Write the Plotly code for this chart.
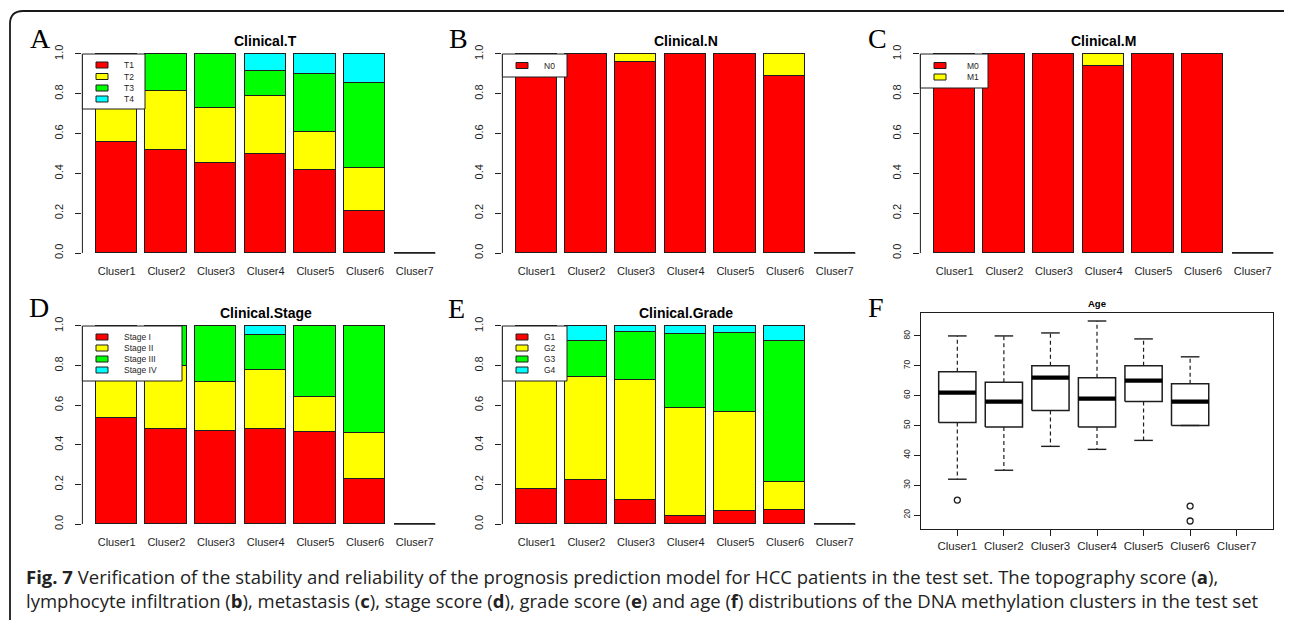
import plotly.graph_objects as go

# page offset of the plot inside the html body (default body margin)
OFF = 8
W, H = 1292 - OFF, 620 - OFF

# ---------------- data ----------------
clusters = ["Cluser1", "Cluser2", "Cluser3", "Cluser4", "Cluser5", "Cluser6", "Cluser7"]
level_colors = ["#FF0000", "#FFFF00", "#00FF00", "#00FFFF"]

# Clinical.T proportions
t_labels = ["T1", "T2", "T3", "T4"]
t_T1 = [0.556, 0.516, 0.452, 0.497, 0.417, 0.213, 0]
t_T2 = [0.222, 0.296, 0.275, 0.290, 0.193, 0.214, 0]
t_T3 = [0.222, 0.188, 0.273, 0.128, 0.289, 0.429, 0]
t_T4 = [0.000, 0.000, 0.000, 0.085, 0.101, 0.144, 0]

# Clinical.N proportions
n_labels = ["N0", "N1"]
n_N0 = [1.000, 1.000, 0.962, 1.000, 1.000, 0.889, 0]
n_N1 = [0.000, 0.000, 0.038, 0.000, 0.000, 0.111, 0]

# Clinical.M proportions
m_labels = ["M0", "M1"]
m_M0 = [1.000, 1.000, 1.000, 0.941, 1.000, 1.000, 0]
m_M1 = [0.000, 0.000, 0.000, 0.059, 0.000, 0.000, 0]

# Clinical.Stage proportions
s_labels = ["Stage I", "Stage II", "Stage III", "Stage IV"]
s_I = [0.535, 0.480, 0.468, 0.478, 0.463, 0.230, 0]
s_II = [0.265, 0.317, 0.250, 0.302, 0.178, 0.231, 0]
s_III = [0.200, 0.203, 0.282, 0.176, 0.359, 0.539, 0]
s_IV = [0.000, 0.000, 0.000, 0.044, 0.000, 0.000, 0]

# Clinical.Grade proportions
g_labels = ["G1", "G2", "G3", "G4"]
g_G1 = [0.176, 0.221, 0.121, 0.042, 0.067, 0.072, 0]
g_G2 = [0.644, 0.519, 0.606, 0.542, 0.498, 0.139, 0]
g_G3 = [0.140, 0.186, 0.243, 0.374, 0.401, 0.715, 0]
g_G4 = [0.040, 0.074, 0.030, 0.042, 0.034, 0.074, 0]

# Age box-plot statistics (Cluser7 has no data)
age_upper = [80, 80, 81, 85, 79, 73, None]
age_q3 = [68, 64.5, 70, 66, 70, 64, None]
age_median = [61, 58, 66, 59, 65, 58, None]
age_q1 = [51, 49.5, 55, 49.5, 58, 50, None]
age_lower = [32, 35, 43, 42, 45, 50, None]
age_outliers = [[25], [], [], [], [], [23, 18], []]

y_ticks_bar = [0, 0.2, 0.4, 0.6, 0.8, 1.0]
y_ticktext_bar = ["0.0", "0.2", "0.4", "0.6", "0.8", "1.0"]
y_ticks_age = [20, 30, 40, 50, 60, 70, 80]

# ---------------- helpers ----------------
def fx(p):
    return (p - OFF) / W


def fy(p):
    return 1 - (p - OFF) / H


FONT = "Arial, Liberation Sans, sans-serif"
INK = "#1e1e1e"

bar_pos = [0.7 + 1.2 * i for i in range(len(clusters))]

panels = [
    dict(sfx="", title="Clinical.T", labels=t_labels, series=[t_T1, t_T2, t_T3, t_T4],
         xd=(82.4, 449), yd=(46, 261),
         leg=dict(box=(82.4, 54, 145, 109), sw=96, tx=122, rows=[65, 76.5, 88, 99])),
    dict(sfx="2", title="Clinical.N", labels=n_labels, series=[n_N0, n_N1],
         xd=(502.4, 869), yd=(46, 261),
         leg=dict(box=(502.4, 54, 567, 77), sw=516, tx=542, rows=[65.5], n=1)),
    dict(sfx="3", title="Clinical.M", labels=m_labels, series=[m_M0, m_M1],
         xd=(920.4, 1287), yd=(46, 261),
         leg=dict(box=(920.4, 54, 988, 88), sw=934, tx=965, rows=[65.5, 77])),
    dict(sfx="4", title="Clinical.Stage", labels=s_labels, series=[s_I, s_II, s_III, s_IV],
         xd=(82.4, 449), yd=(318, 532),
         leg=dict(box=(82.4, 326, 182, 381), sw=96, tx=122, rows=[337, 348, 359, 370])),
    dict(sfx="5", title="Clinical.Grade", labels=g_labels, series=[g_G1, g_G2, g_G3, g_G4],
         xd=(502.4, 869), yd=(318, 532),
         leg=dict(box=(502.4, 326, 567, 381), sw=516, tx=542, rows=[337, 348, 359, 370])),
]

fig = go.Figure()
shapes = []
annotations = []
layout_axes = {}

for p in panels:
    xa = "x" + p["sfx"]
    ya = "y" + p["sfx"]
    for lab, vals, col in zip(p["labels"], p["series"], level_colors):
        fig.add_trace(go.Bar(
            x=bar_pos, y=vals, width=1.0, name=lab, xaxis=xa, yaxis=ya,
            marker=dict(color=col, line=dict(color=INK, width=1)),
            showlegend=False, cliponaxis=False, hoverinfo="skip"))
    # empty cluster drawn as flat line at its (zero) total
    totals = [sum(s[i] for s in p["series"]) for i in range(len(clusters))]
    zx, zy = [], []
    for i, t in enumerate(totals):
        if t == 0:
            zx += [bar_pos[i] - 0.5, bar_pos[i] + 0.5, None]
            zy += [t, t, None]
    fig.add_trace(go.Scatter(x=zx, y=zy, mode="lines", xaxis=xa, yaxis=ya,
                             line=dict(color=INK, width=1.2), showlegend=False,
                             hoverinfo="skip"))
    layout_axes["xaxis" + p["sfx"]] = dict(
        domain=[fx(p["xd"][0]), fx(p["xd"][1])], range=[-0.128, 8.728],
        tickvals=bar_pos, ticktext=clusters, ticks="", showline=False,
        showgrid=False, zeroline=False, anchor=ya, fixedrange=True,
        tickfont=dict(family=FONT, size=11, color=INK), ticklabelstandoff=2)
    layout_axes["yaxis" + p["sfx"]] = dict(
        domain=[fy(p["yd"][1]), fy(p["yd"][0])], range=[-0.04, 1.04],
        tickvals=y_ticks_bar, ticktext=y_ticktext_bar, tickangle=-90,
        ticks="outside", ticklen=6, tickcolor=INK, tickwidth=1,
        showline=False, showgrid=False, zeroline=False, anchor=xa,
        tickfont=dict(family=FONT, size=11, color=INK), ticklabelstandoff=8)
    # y axis line from 0 to 1 (R style)
    shapes.append(dict(type="line", xref=xa + " domain", yref=ya, x0=0, x1=0,
                       y0=y_ticks_bar[0], y1=y_ticks_bar[-1],
                       line=dict(color=INK, width=1)))
    # title
    annotations.append(dict(text="<b>%s</b>" % p["title"], xref="paper", yref="paper",
                            x=fx((p["xd"][0] + p["xd"][1]) / 2), y=fy(p["yd"][0] - 5),
                            xanchor="center", yanchor="middle", showarrow=False,
                            font=dict(family=FONT, size=14, color="black")))
    # legend box (R style, opaque)
    lg = p["leg"]
    bx0, by0, bx1, by1 = lg["box"]
    shapes.append(dict(type="rect", xref="paper", yref="paper",
                       x0=fx(bx0), x1=fx(bx1), y0=fy(by1), y1=fy(by0),
                       fillcolor="white", line=dict(color=INK, width=1)))
    nshow = lg.get("n", len(p["labels"]))
    for k in range(nshow):
        ry = lg["rows"][k]
        shapes.append(dict(type="rect", xref="paper", yref="paper",
                           x0=fx(lg["sw"]), x1=fx(lg["sw"] + 12),
                           y0=fy(ry + 3), y1=fy(ry - 3),
                           fillcolor=level_colors[k], line=dict(color=INK, width=1)))
        annotations.append(dict(text=p["labels"][k], xref="paper", yref="paper",
                                x=fx(lg["tx"]), y=fy(ry), xanchor="left", yanchor="middle",
                                showarrow=False,
                                font=dict(family=FONT, size=8.5, color=INK)))

# ---------------- panel F: box plot ----------------
bx, by = [], []
mx, my = [], []
wx, wy = [], []
cx, cy = [], []
ox, oy = [], []
for i in range(len(clusters)):
    c = i + 1
    if age_median[i] is not None:
        bx += [c - 0.4, c + 0.4, c + 0.4, c - 0.4, c - 0.4, None]
        by += [age_q1[i], age_q1[i], age_q3[i], age_q3[i], age_q1[i], None]
        mx += [c - 0.4, c + 0.4, None]
        my += [age_median[i], age_median[i], None]
        wx += [c, c, None, c, c, None]
        wy += [age_q3[i], age_upper[i], None, age_q1[i], age_lower[i], None]
        cx += [c - 0.2, c + 0.2, None, c - 0.2, c + 0.2, None]
        cy += [age_upper[i], age_upper[i], None, age_lower[i], age_lower[i], None]
    for o in age_outliers[i]:
        ox.append(c)
        oy.append(o)

common = dict(xaxis="x6", yaxis="y6", showlegend=False, hoverinfo="skip")
fig.add_trace(go.Scatter(x=wx, y=wy, mode="lines", line=dict(color=INK, width=1.2, dash="4px,3px"), **common))
fig.add_trace(go.Scatter(x=cx, y=cy, mode="lines", line=dict(color=INK, width=1.4), **common))
fig.add_trace(go.Scatter(x=bx, y=by, mode="lines", line=dict(color=INK, width=1.5), **common))
fig.add_trace(go.Scatter(x=mx, y=my, mode="lines", line=dict(color="black", width=4.2), **common))
fig.add_trace(go.Scatter(x=ox, y=oy, mode="markers",
                         marker=dict(symbol="circle-open", size=6, color=INK, line=dict(width=1.3)),
                         **common))

layout_axes["xaxis6"] = dict(
    domain=[fx(921), fx(1273)], range=[0.22, 7.78],
    tickvals=list(range(1, len(clusters) + 1)), ticktext=clusters,
    ticks="outside", ticklen=6, tickcolor=INK, showline=True, mirror=True,
    linecolor=INK, linewidth=1.3, showgrid=False, zeroline=False, anchor="y6",
    tickfont=dict(family=FONT, size=11.5, color=INK))
layout_axes["yaxis6"] = dict(
    domain=[fy(529), fy(313)], range=[15.32, 87.68],
    tickvals=y_ticks_age, tickangle=-90,
    ticks="outside", ticklen=6, tickcolor=INK, showline=True, mirror=True,
    linecolor=INK, linewidth=1.3, showgrid=False, zeroline=False, anchor="x6",
    tickfont=dict(family=FONT, size=8.5, color=INK))
annotations.append(dict(text="<b>Age</b>", xref="paper", yref="paper",
                        x=fx((921 + 1273) / 2), y=fy(303), xanchor="center", yanchor="middle",
                        showarrow=False, font=dict(family=FONT, size=9.5, color="black")))

# ---------------- panel letters ----------------
for letter, lx, ly in [("A", 40, 38), ("B", 458.5, 38), ("C", 877, 38),
                       ("D", 39, 307), ("E", 456.5, 308), ("F", 876.5, 307)]:
    annotations.append(dict(text=letter, xref="paper", yref="paper", x=fx(lx), y=fy(ly),
                            xanchor="center", yanchor="middle", showarrow=False,
                            font=dict(family="Liberation Serif, Times New Roman, serif",
                                      size=28, color="black")))

# ---------------- caption ----------------
cap1 = ("<b>Fig. 7</b> Verification of the stability and reliability of the prognosis prediction "
        "model for HCC patients in the test set. The topography score (<b>a</b>),")
cap2 = ("lymphocyte infiltration (<b>b</b>), metastasis (<b>c</b>), stage score (<b>d</b>), "
        "grade score (<b>e</b>) and age (<b>f</b>) distributions of the DNA methylation "
        "clusters in the test set")
for txt, ly in [(cap1, 576), (cap2, 600)]:
    annotations.append(dict(text=txt, xref="paper", yref="paper", x=fx(24), y=fy(ly),
                            xanchor="left", yanchor="middle", showarrow=False,
                            font=dict(family="Open Sans, Noto Sans, sans-serif", size=18.5,
                                      color="#222222")))

# ---------------- outer rounded frame ----------------
frame = ("M %f,%f L %f,%f Q %f,%f %f,%f L %f,%f Q %f,%f %f,%f L %f,%f" % (
    fx(10), fy(640), fx(10), fy(24), fx(10), fy(11), fx(23), fy(11),
    fx(1285), fy(11), fx(1298), fy(11), fx(1298), fy(24), fx(1298), fy(640)))
shapes.append(dict(type="path", xref="paper", yref="paper", path=frame,
                   line=dict(color="#1a1a1a", width=1.8)))

fig.update_layout(
    width=W, height=H, margin=dict(l=0, r=0, t=0, b=0),
    paper_bgcolor="white", plot_bgcolor="rgba(0,0,0,0)",
    barmode="stack", bargap=0, shapes=shapes, annotations=annotations,
    showlegend=False, **layout_axes)

fig.write_html("out.html")
